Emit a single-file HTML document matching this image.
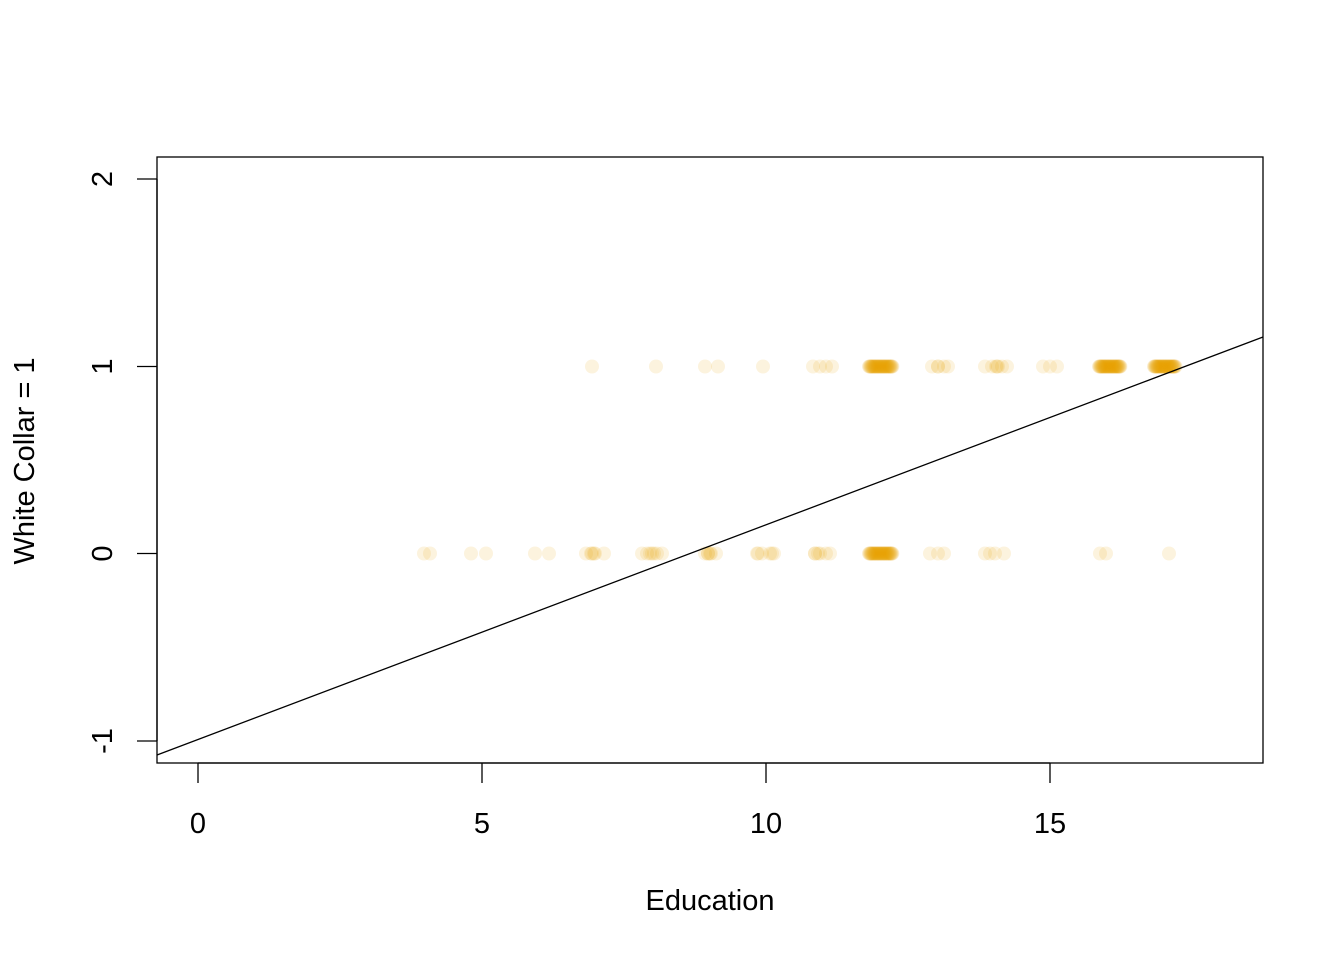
<!DOCTYPE html>
<html><head><meta charset="utf-8"><style>
html,body{margin:0;padding:0;background:#fff;}
svg{display:block;font-family:"Liberation Sans",Arial,sans-serif;}
</style></head><body>
<svg id="s" width="1344" height="960" viewBox="0 0 1344 960">
<rect x="157" y="157" width="1106" height="606" fill="none" stroke="#000" stroke-width="1.3"/>
<g id="pts"></g>
<line x1="157" y1="755" x2="1263" y2="337" stroke="#000" stroke-width="1.3"/>
<g stroke="#000" stroke-width="1.3">
<line x1="198" y1="763" x2="1050" y2="763"/>
<line x1="198" y1="763" x2="198" y2="783"/>
<line x1="482" y1="763" x2="482" y2="783"/>
<line x1="766" y1="763" x2="766" y2="783"/>
<line x1="1050" y1="763" x2="1050" y2="783"/>
<line x1="157" y1="179" x2="157" y2="741"/>
<line x1="137" y1="179" x2="157" y2="179"/>
<line x1="137" y1="366.5" x2="157" y2="366.5"/>
<line x1="137" y1="553.5" x2="157" y2="553.5"/>
<line x1="137" y1="741" x2="157" y2="741"/>
</g>
<g font-size="29" text-anchor="middle" fill="#000">
<text x="198" y="833">0</text>
<text x="482" y="833">5</text>
<text x="766" y="833">10</text>
<text x="1050" y="833">15</text>
<text x="710" y="910">Education</text>
<text transform="translate(112,179) rotate(-90)">2</text>
<text transform="translate(112,366.5) rotate(-90)">1</text>
<text transform="translate(112,553.5) rotate(-90)">0</text>
<text transform="translate(112,741) rotate(-90)">-1</text>
<text transform="translate(34,461) rotate(-90)">White Collar = 1</text>
</g>
</svg>
<script>
var g=document.getElementById('pts'),h='';
function c(y,xs){xs.forEach(function(x){h+='<circle cx="'+x+'" cy="'+y+'" r="7" fill="#E69F00" fill-opacity="0.13"/>';});}
function d(y,x0,n,st){var a=[];for(var i=0;i<n;i++)a.push(x0+i*st);c(y,a);}
c(553.5,[424,430,471,486,535,549,586,591,595,604,642,647,652,657,662,705,708,711,716,757,762,770,774,815,820,826,830]);
c(553.5,[592,594,650,654,708,710,758,772,815,818]);
d(553.5,869,40,0.6);
c(553.5,[930,938,944,985,990,995,1004,1100,1106,1169]);
c(366.5,[592,656,705,718,763,813,820,826,832,932,938,944,948,985,992,997,1002,1007,1043,1050,1057,938,996,998]);
d(366.5,869,40,0.6);
d(366.5,1099,40,0.55);
d(366.5,1154,40,0.55);
g.innerHTML=h;
</script>
</body></html>
